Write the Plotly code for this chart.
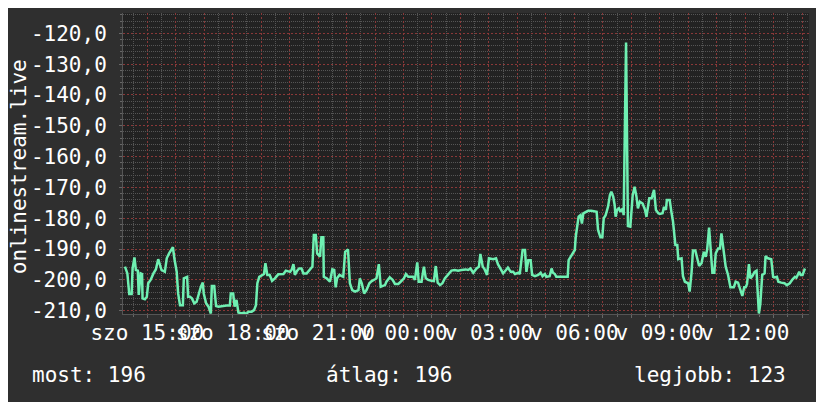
import plotly.graph_objects as go

# minutes after saturday 14:00
minutes = [
    13, 18, 22, 27, 29, 33, 36, 40, 42, 46, 49, 50, 55, 59,
    62, 67, 73, 78, 83, 87, 90, 97, 101, 106, 110, 114, 117, 122,
    125, 129, 135, 137, 144, 146, 150, 154, 159, 164, 169, 173, 177, 179,
    184, 189, 194, 196, 201, 205, 210, 217, 227, 234, 236, 241, 244, 248,
    252, 259, 264, 269, 273, 280, 285, 289, 292, 296, 301, 306, 309, 313,
    318, 323, 329, 336, 347, 352, 361, 364, 368, 371, 376, 380, 385, 389,
    396, 403, 408, 411, 415, 418, 424, 427, 431, 432, 438, 445, 450, 454,
    457, 460, 465, 470, 473, 477, 483, 487, 492, 498, 505, 508, 512, 517,
    522, 528, 533, 540, 543, 548, 552, 561, 564, 571, 577, 582, 589,
    594, 601, 605, 610, 620, 624, 629, 632, 638, 643, 647, 652, 659, 664,
    668, 672, 677, 682, 687, 694, 701, 708, 715, 722, 731, 736, 741, 747,
    754, 759, 762, 767, 771, 776, 780, 789, 795, 799, 805, 810, 816, 820,
    826, 831, 835, 842, 845, 851, 856, 859, 863, 868, 871, 877, 884, 889,
    893, 898, 901, 908, 912, 915, 919, 922, 929, 936, 946, 948, 952, 957,
    961, 963, 966, 969, 973, 976, 979, 984, 989, 996, 1003, 1007, 1010, 1015,
    1019, 1022, 1026, 1031, 1035, 1038, 1042, 1045, 1047, 1050, 1054, 1057, 1062, 1064,
    1069, 1073, 1078, 1083, 1087, 1091, 1094, 1098, 1104, 1109, 1112, 1118, 1123, 1128, 1132, 1137,
    1140, 1146, 1149, 1153, 1155, 1161, 1165, 1168, 1173, 1177, 1179, 1186, 1189, 1193,
    1200, 1203, 1207, 1210, 1215, 1219, 1223, 1228, 1233, 1237, 1240, 1244, 1248, 1251,
    1255, 1258, 1263, 1267, 1270, 1274, 1279, 1284, 1289, 1296, 1300, 1305, 1309, 1314,
    1318, 1321, 1324, 1328, 1331, 1335, 1340, 1344, 1347, 1349, 1352, 1356, 1361, 1363,
    1368, 1375, 1379, 1382, 1387, 1390, 1396, 1403, 1408, 1414, 1420, 1425, 1428, 1434, 1437, 1441, 1446,
]

values = [
    -195.7, -197.9, -204.6, -204.6, -196.3, -192.7, -196.8, -197.0, -204.9, -197.9, -198.1, -206.0, -206.3, -205.5,
    -201.1, -200.0, -197.9, -196.6, -193.3, -195.2, -196.8, -197.4, -193.0, -191.4, -190.3, -189.4, -193.0, -197.4,
    -204.4, -208.2, -208.2, -199.5, -199.0, -205.5, -205.5, -206.0, -207.6, -207.1, -204.4, -202.2, -200.9, -204.4,
    -207.6, -208.7, -210.9, -202.0, -202.0, -208.5, -208.7, -208.5, -208.3, -208.3, -204.4, -204.4, -208.7, -206.5,
    -210.6, -210.9, -210.6, -211.1, -210.3, -210.3, -209.8, -208.2, -201.1, -199.0, -198.4, -198.1, -194.6, -198.4,
    -198.4, -200.3, -199.5, -198.2, -198.1, -197.0, -197.4, -196.8, -194.9, -198.4, -197.0, -196.3, -196.3, -197.9,
    -197.9, -196.8, -195.7, -185.4, -185.4, -191.4, -192.5, -186.2, -186.2, -199.0, -199.5, -200.6, -196.6, -196.8,
    -202.4, -199.5, -198.4, -198.8, -199.0, -190.9, -190.1, -201.1, -203.3, -203.8, -203.3, -199.5, -201.1, -204.4,
    -203.3, -201.1, -200.4, -199.8, -199.5, -194.9, -202.2, -201.7, -200.6, -199.2, -200.0, -201.3, -201.3,
    -200.6, -199.5, -198.1, -199.0, -199.0, -200.0, -194.3, -200.6, -200.6, -195.7, -199.5, -200.0, -200.3, -200.4,
    -195.5, -200.9, -201.7, -201.1, -199.5, -198.4, -197.0, -196.8, -197.0, -196.8, -196.6, -196.8, -196.3, -197.7,
    -196.3, -195.7, -191.6, -195.7, -196.6, -198.4, -193.0, -193.3, -193.0, -194.9, -196.8, -197.9, -196.8, -196.0,
    -197.4, -197.4, -198.1, -197.7, -198.1, -190.3, -190.3, -197.4, -193.6, -193.6, -198.4, -198.8, -198.4, -197.7,
    -198.8, -198.1, -199.0, -198.8, -196.3, -197.7, -198.1, -199.0, -199.0, -199.0, -199.0, -193.6, -192.5, -191.4,
    -190.3, -186.0, -182.2, -179.5, -179.0, -181.7, -178.4, -177.9, -177.6, -177.6, -177.7, -177.9, -183.8, -186.2,
    -186.2, -180.0, -179.0, -176.3, -172.5, -171.4, -173.0, -175.7, -179.5, -177.3, -176.8, -177.9, -176.8, -179.0,
    -123.0, -182.5, -182.7, -172.5, -169.8, -173.0, -176.8, -174.6, -175.2, -177.3, -179.5, -173.5, -173.5, -170.8, -177.3, -178.4,
    -178.6, -178.4, -176.3, -177.3, -174.1, -174.1, -178.4, -181.1, -188.7, -188.7, -193.3, -193.0, -198.8, -200.6,
    -201.1, -203.8, -197.7, -190.5, -190.5, -193.6, -195.5, -194.6, -190.9, -192.5, -190.1, -183.0, -190.3, -197.7,
    -197.7, -191.4, -189.8, -189.8, -184.9, -189.2, -195.7, -198.4, -202.4, -202.4, -200.6, -200.9, -202.7, -205.2,
    -202.4, -202.4, -201.3, -194.9, -199.5, -198.8, -197.4, -197.0, -205.5, -210.9, -207.8, -198.4, -197.9, -192.3,
    -193.0, -193.3, -199.0, -199.2, -199.0, -200.6, -200.9, -201.1, -201.7, -201.1, -199.8, -199.0, -199.3, -197.4, -198.4, -198.4, -196.3,
]

tick_hours = [15, 18, 21, 24, 27, 30, 33, 36]
tick_labels = ["szo 15:00", "szo 18:00", "szo 21:00", "v 00:00", "v 03:00", "v 06:00", "v 09:00", "v 12:00"]
y_ticks = [-210, -200, -190, -180, -170, -160, -150, -140, -130, -120]

stat_labels = ["most: 196", "átlag: 196", "legjobb: 123"]
y_title = "onlinestream.live"

assert len(minutes) == len(values)
hours = [14 + m / 60 for m in minutes]

x_range = [14.147, 38.243]
y_range = [-211.07, -113.4]

# red grid every hour, grey every half hour, labels every third hour
grid_hours = list(range(15, 39))
grid_text = [tick_labels[tick_hours.index(h)] if h in tick_hours else "" for h in grid_hours]
half_hours = [h + 0.5 for h in range(14, 38)]
minor_y = [v for v in range(-210, -112, 2) if v % 10 != 0]

FONT = "DejaVu Sans Mono"
major_grid = "#8a3838"
minor_grid = "#555555"

fig = go.Figure()
fig.add_trace(go.Scatter(
    x=hours, y=values, mode="lines",
    line=dict(color="#6ff0b2", width=2.5),
    hoverinfo="skip", showlegend=False,
))

# the page puts the figure 8px in from the top-left corner
fig.update_layout(
    width=816, height=394,
    margin=dict(l=115, r=15, t=5, b=88),
    paper_bgcolor="#2f2f2f",
    plot_bgcolor="#222222",
    font=dict(family=FONT, size=21, color="#ffffff"),
    showlegend=False,
)

fig.update_xaxes(
    range=x_range, tickmode="array", tickvals=grid_hours, ticktext=grid_text,
    tickangle=0, showgrid=True, gridcolor=major_grid, griddash="2px,2px", gridwidth=1,
    minor=dict(tickmode="array", tickvals=half_hours, showgrid=True, gridcolor=minor_grid,
               griddash="1px,1px", ticks="outside", ticklen=2, tickcolor="#666666"),
    ticks="outside", ticklen=3, tickcolor="#666666",
    showline=True, linecolor="#555555", zeroline=False,
    ticklabelstandoff=-3, automargin=False,
)
fig.update_yaxes(
    range=y_range, tickmode="array", tickvals=y_ticks,
    ticktext=[f"{v:.1f}".replace(".", ",") for v in y_ticks],
    showgrid=True, gridcolor=major_grid, griddash="2px,2px", gridwidth=1,
    minor=dict(tickmode="array", tickvals=minor_y, showgrid=True, gridcolor=minor_grid,
               griddash="1px,1px", ticks="outside", ticklen=2, tickcolor="#666666"),
    ticks="outside", ticklen=3, tickcolor="#666666",
    showline=True, linecolor="#555555", zeroline=False,
    ticklabelstandoff=8, automargin=False,
)

fig.add_annotation(text=y_title, textangle=-90, xref="paper", yref="paper",
                   x=-0.152, y=0.49, xanchor="center", yanchor="middle", showarrow=False,
                   font=dict(family=FONT, size=21, color="#ffffff"))

# green arrow heads at the axis ends
fig.add_shape(type="path", xref="x", yref="y", xsizemode="pixel", ysizemode="pixel",
              xanchor=x_range[0], yanchor=y_range[1],
              path="M -1,1 L 5,1 L 2,6 Z", fillcolor="#00d000", line=dict(width=0))
fig.add_shape(type="path", xref="x", yref="y", xsizemode="pixel", ysizemode="pixel",
              xanchor=x_range[1], yanchor=y_range[0],
              path="M 1,3 L 1,-3 L 7,0 Z", fillcolor="#00d000", line=dict(width=0))

stat_x = [-0.136, 0.293, 0.742]
for label, sx in zip(stat_labels, stat_x):
    fig.add_annotation(text=label, xref="paper", yref="paper", x=sx, y=-0.203,
                       xanchor="left", yanchor="middle", showarrow=False,
                       font=dict(family=FONT, size=21, color="#ffffff"))

fig.write_html("out.html")
